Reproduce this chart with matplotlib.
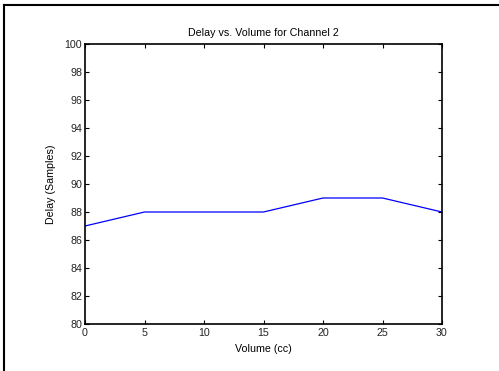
import matplotlib
matplotlib.use('Agg')
import matplotlib.pyplot as plt
from matplotlib.lines import Line2D

plt.rcParams['font.family'] = ['Liberation Sans', 'DejaVu Sans']
plt.rcParams['font.size'] = 7.7

volume = [0, 5, 10, 15, 20, 25, 30]
delay = [87, 88, 88, 88, 89, 89, 88]
xticks = [0, 5, 10, 15, 20, 25, 30]
yticks = [80, 82, 84, 86, 88, 90, 92, 94, 96, 98, 100]

fig = plt.figure(figsize=(4.99, 3.71), dpi=100)
ax = fig.add_axes([85/499, 1-324/371, (442-85)/499, (324-44)/371])

ax.plot(volume, delay, color='#0000ff', lw=0.9)
ax.set_xlim(0, 30)
ax.set_ylim(80, 100)
ax.set_xticks(xticks)
ax.set_yticks(yticks)
ax.tick_params(direction='in', length=3, width=0.8, top=True, right=True, pad=2,
               labelcolor='#222222')
ax.tick_params(axis='x', pad=3)
for s in ax.spines.values():
    s.set_linewidth(1.2)

ax.set_title('Delay vs. Volume for Channel 2', fontsize=7.7, pad=6)
ax.set_xlabel('Volume (cc)', labelpad=4)
ax.set_ylabel('Delay (Samples)', labelpad=6)

# frame remnant at top and left of the picture
fig.add_artist(Line2D([4/499, 4/499], [0, 1-5/371], transform=fig.transFigure, color='black', lw=1.5))
fig.add_artist(Line2D([4/499, 1], [1-5/371, 1-5/371], transform=fig.transFigure, color='black', lw=1.5))

fig.savefig('out.png', dpi=100)
